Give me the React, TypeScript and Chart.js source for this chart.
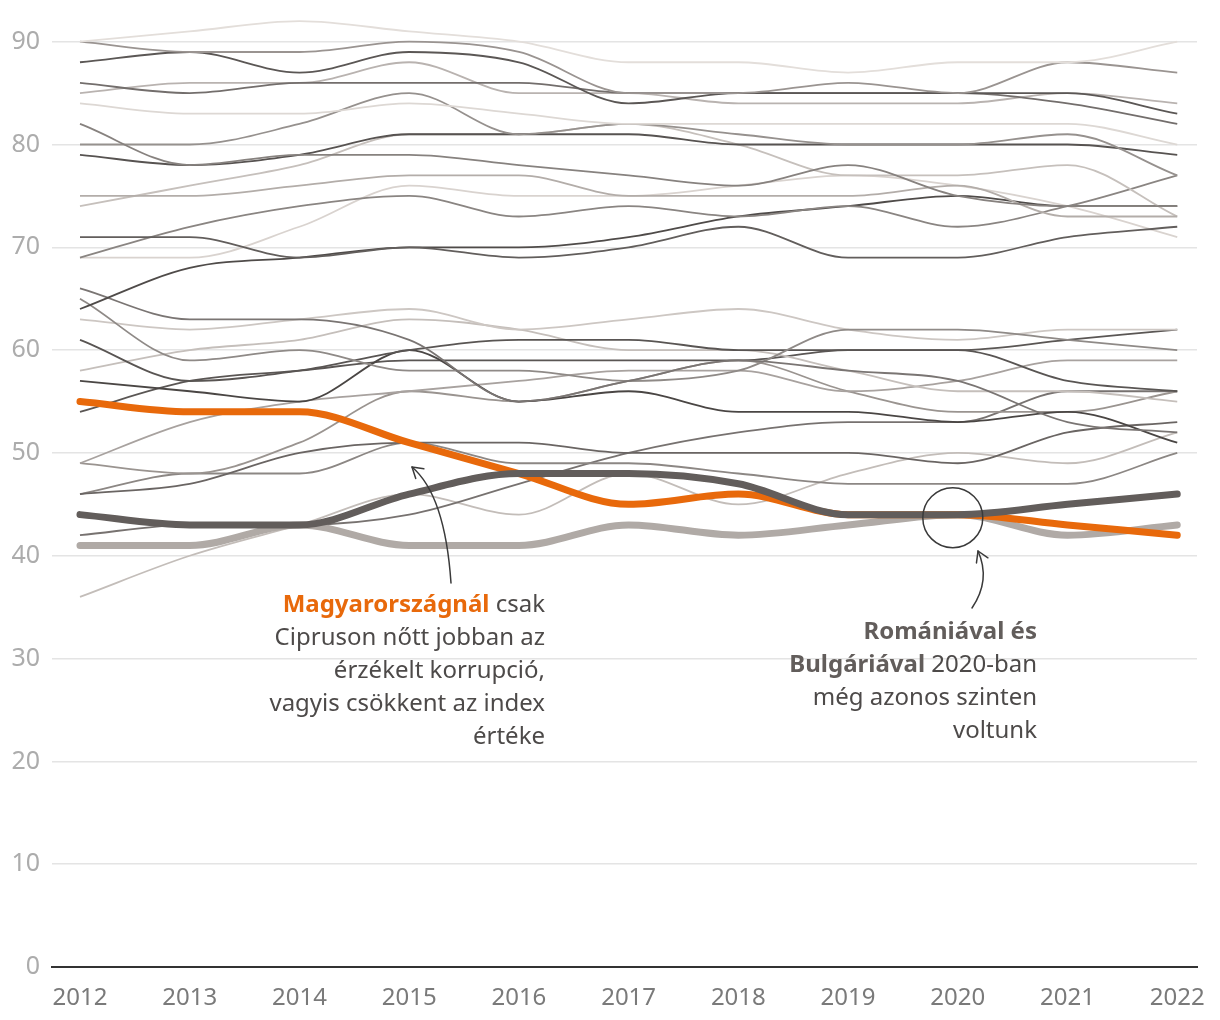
import React, { useEffect, useRef } from "react";
import { Chart, registerables } from "chart.js";

Chart.register(...registerables);

const years = [2012, 2013, 2014, 2015, 2016, 2017, 2018, 2019, 2020, 2021, 2022];
const yTicks = [0, 10, 20, 30, 40, 50, 60, 70, 80, 90];

// Corruption Perceptions Index, Western Europe & EU
const denmark = [90, 91, 92, 91, 90, 88, 88, 87, 88, 88, 90];
const finland = [90, 89, 89, 90, 89, 85, 85, 86, 85, 88, 87];
const sweden = [88, 89, 87, 89, 88, 84, 85, 85, 85, 85, 83];
const switzerland = [86, 85, 86, 86, 86, 85, 85, 85, 85, 84, 82];
const norway = [85, 86, 86, 88, 85, 85, 84, 84, 84, 85, 84];
const netherlands = [84, 83, 83, 84, 83, 82, 82, 82, 82, 82, 80];
const iceland = [82, 78, 79, 79, 78, 77, 76, 78, 75, 74, 74];
const luxembourg = [80, 80, 82, 85, 81, 82, 81, 80, 80, 81, 77];
const germany = [79, 78, 79, 81, 81, 81, 80, 80, 80, 80, 79];
const belgium = [75, 75, 76, 77, 77, 75, 75, 75, 76, 73, 73];
const uk = [74, 76, 78, 81, 81, 82, 80, 77, 77, 78, 73];
const france = [71, 71, 69, 70, 69, 70, 72, 69, 69, 71, 72];
const ireland = [69, 72, 74, 75, 73, 74, 73, 74, 72, 74, 77];
const austria = [69, 69, 72, 76, 75, 75, 76, 77, 76, 74, 71];
const estonia = [64, 68, 69, 70, 70, 71, 73, 74, 75, 74, 74];
const cyprus = [66, 63, 63, 61, 55, 57, 59, 58, 57, 53, 52];
const spain = [65, 59, 60, 58, 58, 57, 58, 62, 62, 61, 60];
const portugal = [63, 62, 63, 64, 62, 63, 64, 62, 61, 62, 62];
const slovenia = [61, 57, 58, 60, 61, 61, 60, 60, 60, 57, 56];
const poland = [58, 60, 61, 63, 62, 60, 60, 58, 56, 56, 55];
const malta = [57, 56, 55, 60, 55, 56, 54, 54, 53, 54, 51];
const lithuania = [54, 57, 58, 59, 59, 59, 59, 60, 60, 61, 62];
const latvia = [49, 53, 55, 56, 57, 58, 58, 56, 57, 59, 59];
const czechia = [49, 48, 51, 56, 55, 57, 59, 56, 54, 54, 56];
const slovakia = [46, 47, 50, 51, 51, 50, 50, 50, 49, 52, 53];
const croatia = [46, 48, 48, 51, 49, 49, 48, 47, 47, 47, 50];
const italy = [42, 43, 43, 44, 47, 50, 52, 53, 53, 56, 56];
const greece = [36, 40, 43, 46, 44, 48, 45, 48, 50, 49, 52];
const hungary = [55, 54, 54, 51, 48, 45, 46, 44, 44, 43, 42];
const romania = [44, 43, 43, 46, 48, 48, 47, 44, 44, 45, 46];
const bulgaria = [41, 41, 43, 41, 41, 43, 42, 43, 44, 42, 43];

const thinSeries: [string, number[]][] = [
  ["Dánia", denmark],
  ["Finnország", finland],
  ["Svédország", sweden],
  ["Svájc", switzerland],
  ["Norvégia", norway],
  ["Hollandia", netherlands],
  ["Izland", iceland],
  ["Luxemburg", luxembourg],
  ["Németország", germany],
  ["Belgium", belgium],
  ["Egyesült Királyság", uk],
  ["Franciaország", france],
  ["Írország", ireland],
  ["Ausztria", austria],
  ["Észtország", estonia],
  ["Ciprus", cyprus],
  ["Spanyolország", spain],
  ["Portugália", portugal],
  ["Szlovénia", slovenia],
  ["Lengyelország", poland],
  ["Málta", malta],
  ["Litvánia", lithuania],
  ["Lettország", latvia],
  ["Csehország", czechia],
  ["Szlovákia", slovakia],
  ["Horvátország", croatia],
  ["Olaszország", italy],
  ["Görögország", greece],
];

const thinColors: Record<string, string> = {
  "Dánia": "#e3deda",
  "Finnország": "#9a9491",
  "Svédország": "#5b5755",
  "Svájc": "#736e6c",
  "Norvégia": "#b9b3b0",
  "Hollandia": "#ddd8d4",
  "Izland": "#87827f",
  "Luxemburg": "#96918e",
  "Németország": "#575351",
  "Belgium": "#b3ada9",
  "Egyesült Királyság": "#c6c0bc",
  "Franciaország": "#625e5c",
  "Írország": "#8a8582",
  "Ausztria": "#d9d3cf",
  "Észtország": "#4f4b49",
  "Ciprus": "#7a7573",
  "Spanyolország": "#8f8a87",
  "Portugália": "#cdc7c3",
  "Szlovénia": "#595553",
  "Lengyelország": "#c5bfbb",
  "Málta": "#4a4644",
  "Litvánia": "#5a5654",
  "Lettország": "#a8a29f",
  "Csehország": "#9a9490",
  "Szlovákia": "#6a6563",
  "Horvátország": "#8c8784",
  "Olaszország": "#777270",
  "Görögország": "#c3bdb9",
};

const ORANGE = "#e8690b";
const ROMANIA_C = "#625d5b";
const BULGARIA_C = "#b0aaa6";
const FONT = "'Noto Sans', 'Open Sans', sans-serif";
const TEXT_SIZE = 24;

function arrow(ctx: CanvasRenderingContext2D, p0: number[], c: number[], p1: number[]) {
  ctx.beginPath();
  ctx.moveTo(p0[0], p0[1]);
  ctx.quadraticCurveTo(c[0], c[1], p1[0], p1[1]);
  ctx.stroke();
  const ang = Math.atan2(p1[1] - c[1], p1[0] - c[0]);
  const len = 12;
  ctx.beginPath();
  ctx.moveTo(p1[0] - len * Math.cos(ang - 0.55), p1[1] - len * Math.sin(ang - 0.55));
  ctx.lineTo(p1[0], p1[1]);
  ctx.lineTo(p1[0] - len * Math.cos(ang + 0.55), p1[1] - len * Math.sin(ang + 0.55));
  ctx.stroke();
}

function richLine(ctx: CanvasRenderingContext2D, parts: [string, boolean, string][], right: number, y: number) {
  let total = 0;
  const widths: number[] = [];
  for (const [t, bold] of parts) {
    ctx.font = `${bold ? 700 : 400} ${TEXT_SIZE}px ${FONT}`;
    const w = ctx.measureText(t).width;
    widths.push(w);
    total += w;
  }
  let x = right - total;
  parts.forEach(([t, bold, color], i) => {
    ctx.font = `${bold ? 700 : 400} ${TEXT_SIZE}px ${FONT}`;
    ctx.fillStyle = color;
    ctx.textAlign = "left";
    ctx.textBaseline = "middle";
    ctx.fillText(t, x, y);
    x += widths[i];
  });
}

const annotationPlugin = {
  id: "annotations",
  afterDatasetsDraw(chart: any) {
    const ctx: CanvasRenderingContext2D = chart.ctx;
    const xs = chart.scales.x;
    const ys = chart.scales.y;
    ctx.save();
    ctx.strokeStyle = "#3a3a3a";
    ctx.lineWidth = 1.5;
    ctx.lineCap = "round";
    ctx.lineJoin = "round";

    // circle around 2020 meeting point
    const cx = xs.getPixelForValue(2020) - 5;
    const cy = ys.getPixelForValue(44) + 3;
    ctx.beginPath();
    ctx.arc(cx, cy, 30, 0, Math.PI * 2);
    ctx.stroke();

    // arrow to Hungary line
    arrow(ctx, [451, 583], [445, 495], [412, 467]);
    // arrow to circle
    arrow(ctx, [972, 608], [991, 580], [978, 551]);

    const txt = "#4d4a49";
    richLine(ctx, [["Magyarországnál", true, ORANGE], [" csak", false, txt]], 545, 605);
    richLine(ctx, [["Cipruson nőtt jobban az", false, txt]], 545, 638);
    richLine(ctx, [["érzékelt korrupció,", false, txt]], 545, 671);
    richLine(ctx, [["vagyis csökkent az index", false, txt]], 545, 704);
    richLine(ctx, [["értéke", false, txt]], 545, 737);

    richLine(ctx, [["Romániával és", true, ROMANIA_C]], 1037, 632);
    richLine(ctx, [["Bulgáriával", true, ROMANIA_C], [" 2020-ban", false, txt]], 1037, 665);
    richLine(ctx, [["még azonos szinten", false, txt]], 1037, 698);
    richLine(ctx, [["voltunk", false, txt]], 1037, 731);
    ctx.restore();
  },
};

export default function App() {
  const ref = useRef<HTMLCanvasElement>(null);
  useEffect(() => {
    if (!ref.current) return;
    const toPoints = (arr: number[]) => arr.map((v, i) => ({ x: years[i], y: v }));
    const datasets: any[] = thinSeries.map(([name, arr]) => ({
      label: name,
      data: toPoints(arr),
      borderColor: thinColors[name],
      borderWidth: 1.8,
      pointRadius: 0,
      cubicInterpolationMode: "monotone",
      fill: false,
      order: 10,
    }));
    datasets.push({
      label: "Bulgária",
      data: toPoints(bulgaria),
      borderColor: BULGARIA_C,
      borderWidth: 7,
      borderCapStyle: "round",
      pointRadius: 0,
      cubicInterpolationMode: "monotone",
      order: 3,
    });
    datasets.push({
      label: "Magyarország",
      data: toPoints(hungary),
      borderColor: ORANGE,
      borderWidth: 7,
      borderCapStyle: "round",
      pointRadius: 0,
      cubicInterpolationMode: "monotone",
      order: 2,
    });
    datasets.push({
      label: "Románia",
      data: toPoints(romania),
      borderColor: ROMANIA_C,
      borderWidth: 7,
      borderCapStyle: "round",
      pointRadius: 0,
      cubicInterpolationMode: "monotone",
      order: 1,
    });

    const chart = new Chart(ref.current, {
      type: "line",
      data: { datasets },
      options: {
        animation: false,
        responsive: false,
        layout: { padding: { top: 16, right: 23, left: 0, bottom: 0 } },
        plugins: { legend: { display: false }, tooltip: { enabled: false } },
        scales: {
          x: {
            type: "linear",
            min: 2011.745,
            max: 2022.18,
            afterBuildTicks: (s: any) => {
              s.ticks = years.map((v) => ({ value: v }));
            },
            afterFit: (s: any) => {
              s.height = 53;
              s.paddingLeft = 0;
              s.paddingRight = 0;
            },
            grid: { display: false, drawTicks: false },
            border: { display: true, color: "#333333", width: 2 },
            ticks: {
              color: "#7a7a7a",
              font: { family: FONT, size: 24 },
              padding: 17,
              maxRotation: 0,
              autoSkip: false,
              callback: (v: any) => String(v),
            },
          },
          y: {
            min: 0,
            max: 92.5,
            afterBuildTicks: (s: any) => {
              s.ticks = yTicks.map((v) => ({ value: v }));
            },
            afterFit: (s: any) => {
              s.width = 52;
              s.paddingTop = 0;
              s.paddingBottom = 0;
            },
            grid: { color: "#e4e4e4", lineWidth: 1.5, drawTicks: false },
            border: { display: false },
            ticks: {
              color: "#acacac",
              font: { family: FONT, size: 25 },
              padding: 12,
            },
          },
        },
      },
      plugins: [annotationPlugin],
    });
    return () => chart.destroy();
  }, []);

  return (
    <div style={{ position: "absolute", left: 0, top: 0, width: 1220, height: 1020, background: "#fff" }}>
      <canvas ref={ref} width={1220} height={1020} />
    </div>
  );
}
